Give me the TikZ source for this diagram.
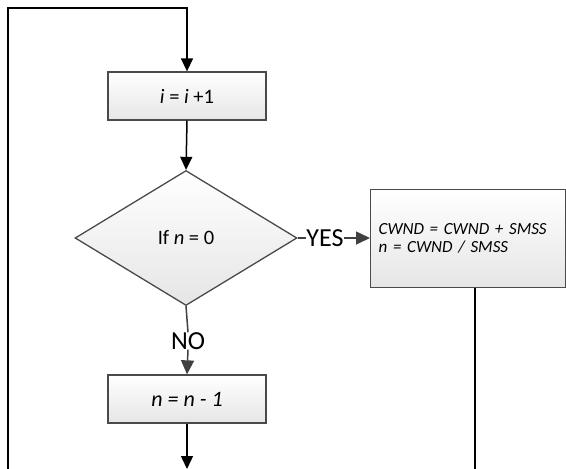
\documentclass[tikz,border=0pt]{standalone}
\usepackage{fontspec}
\setmainfont{Carlito}
\usetikzlibrary{shapes.geometric,arrows.meta}
\definecolor{boxline}{HTML}{4A4A4A}
\definecolor{flowgray}{HTML}{404040}
\tikzset{
  procbox/.style={draw=boxline, line width=1.3pt, top color=white, bottom color=black!10,
    minimum width=158pt, minimum height=48pt, inner sep=0pt, font=\fontsize{20.5}{24}\selectfont},
  decision/.style={diamond, draw=boxline, line width=1.3pt, top color=white, bottom color=black!10,
    minimum width=222pt, minimum height=135pt, aspect=1.64, inner sep=0pt,
    font=\fontsize{20.5}{24}\selectfont},
  branchlabel/.style={inner sep=0pt, font=\fontsize{26}{28}\selectfont},
  flow/.style={line width=1.5pt, draw=black, -{Triangle[length=13pt,width=12pt]}},
  plainflow/.style={line width=1.5pt, draw=black},
  branchflow/.style={line width=1.5pt, draw=flowgray, -{Triangle[length=14pt,width=13pt]}},
  branchline/.style={line width=1.5pt, draw=flowgray}
}
\begin{document}
\begin{tikzpicture}[x=1pt, y=-1pt]
\useasboundingbox (0,0) rectangle (566,469);

% process and decision nodes
\node[procbox] (inc) at (187,96) {\textit{i} = \textit{i} +1};
\node[decision] (test) at (186,238) {If \textit{n} = 0};
\node[procbox, minimum width=195pt, minimum height=98pt, anchor=north west,
      font=\fontsize{17}{18}\selectfont, align=left, text width=179pt]
      (grow) at (370,189) {\textit{CWND = CWND + SMSS}\\\textit{n = CWND / SMSS}};
\node[procbox, font=\fontsize{22}{24}\selectfont] (dec) at (187,399) {\textit{n = n - 1}};

% branch labels
\node[branchlabel] (yes) at (325,238) {YES};
\node[branchlabel] (no) at (188,341) {NO};

% loop-back and end points
\coordinate (loopbot) at (8,469);
\coordinate (looptop) at (8,8);
\coordinate (decend) at (187,469);
\coordinate (growend) at (475,469);

% connectors
\draw[flow] (loopbot) -- (looptop) -| (inc.north);
\draw[flow] (inc.south) -- (test.north);
\draw[branchline] (test.east) -- (yes.west);
\draw[branchflow] (yes.east) -- (grow.west |- yes.east);
\draw[branchline] (test.south) -- (no.north);
\draw[branchflow] (no.south) -- (dec.north);
\draw[flow] (dec.south) -- (decend);
\draw[plainflow] (grow.south -| growend) -- (growend);
\end{tikzpicture}
\end{document}
